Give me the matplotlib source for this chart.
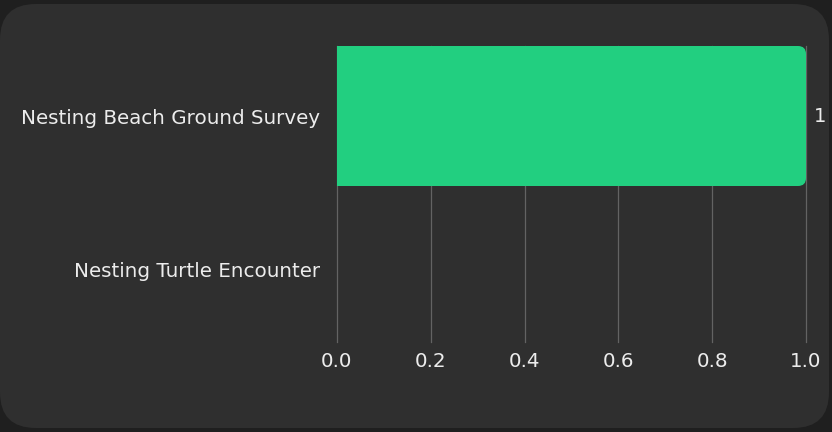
import matplotlib
matplotlib.use("Agg")
import matplotlib.pyplot as plt
from matplotlib.patches import FancyBboxPatch

categories = ["Nesting Beach Ground Survey", "Nesting Turtle Encounter"]
values = [1, 0]
xticks = [0.0, 0.2, 0.4, 0.6, 0.8, 1.0]

outer_bg = "#1f1f1f"
panel_bg = "#2f2f2f"
bar_color = "#22cf80"
text_color = "#ececec"
grid_color = "#636363"

plt.rcParams['font.family'] = ['DejaVu Sans']

fig = plt.figure(figsize=(8.32, 4.32), dpi=100)
fig.patch.set_facecolor(outer_bg)

# rounded panel behind the chart
panel = FancyBboxPatch((0.0, 4 / 432), 829 / 832, 424 / 432,
                       boxstyle="round,pad=0,rounding_size=0.043",
                       mutation_aspect=832 / 432,
                       transform=fig.transFigure, facecolor=panel_bg,
                       edgecolor="none", zorder=-10)
fig.patches.append(panel)

ax = fig.add_axes([337 / 832, 1 - 342 / 432, 469 / 832, 296 / 432])
ax.set_facecolor("none")
ax.set_zorder(1)

bar_h = 0.915
bars = ax.barh(range(len(categories)), values, height=bar_h, color=bar_color, zorder=3)

ax.set_xlim(0, 1.0)
ax.set_ylim(1.477, -0.4575)

# round the right-hand corners of each bar
r_x = 8 / 469
r_y = 8 / 153
for i, v in enumerate(values):
    if v <= 0:
        continue
    clip = FancyBboxPatch((-0.2, i - bar_h / 2), v + 0.2, bar_h,
                          boxstyle=f"round,pad=0,rounding_size={r_x}",
                          mutation_aspect=r_y / r_x,
                          transform=ax.transData, facecolor="none", edgecolor="none")
    ax.add_patch(clip)
    bars[i].set_clip_path(clip)
    ax.text(v + 0.017, i, str(v), va="center", ha="left",
            color=text_color, fontsize=14)

ax.set_xticks(xticks)
ax.set_xticklabels([f"{t:.1f}" for t in xticks])
ax.set_yticks(range(len(categories)))
ax.set_yticklabels(categories)
ax.tick_params(axis="both", length=0, colors=text_color, labelsize=14.3)
ax.tick_params(axis="y", pad=12)
ax.tick_params(axis="x", pad=7)
ax.grid(axis="x", color=grid_color, linewidth=0.9, zorder=0)
ax.grid(axis="y", visible=False)
for gl in ax.xaxis.get_gridlines():
    gl.set_clip_on(False)
for s in ax.spines.values():
    s.set_visible(False)

fig.savefig("out.png", dpi=100, facecolor=fig.get_facecolor())
